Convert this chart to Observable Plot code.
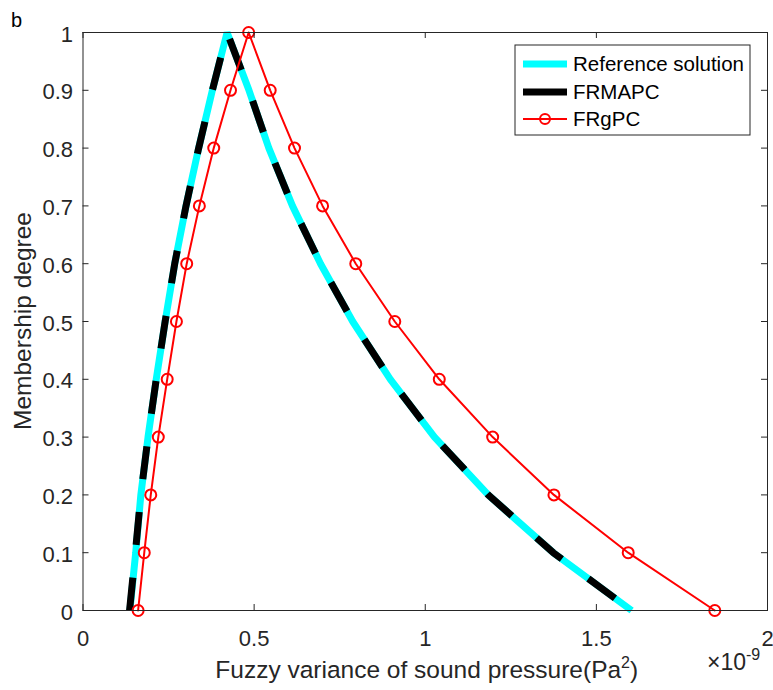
<!DOCTYPE html>
<html>
<head>
<meta charset="utf-8">
<script src="https://cdn.jsdelivr.net/npm/d3@7"></script>
<script src="https://cdn.jsdelivr.net/npm/@observablehq/plot@0.6"></script>
<style>
  html, body { margin: 0; padding: 0; background: #fff; }
</style>
</head>
<body>
<div id="chart"></div>
<script>
// ---- data (x values in units of 1e-9 Pa^2) ----
const membership = [0,0.1,0.2,0.3,0.4,0.5,0.6,0.7,0.8,0.9,1,0.9,0.8,0.7,0.6,0.5,0.4,0.3,0.2,0.1,0];
const referenceX = [0.137,0.154,0.169,0.190,0.214,0.240,0.268,0.301,0.338,0.378,0.421,
                    0.485,0.543,0.612,0.694,0.788,0.898,1.027,1.184,1.374,1.603];
const frmapcX    = [0.136,0.153,0.169,0.190,0.214,0.240,0.268,0.301,0.338,0.378,0.421,
                    0.485,0.543,0.612,0.694,0.788,0.898,1.027,1.184,1.374,1.603];
const frgpcX     = [0.161,0.179,0.198,0.220,0.246,0.273,0.303,0.340,0.382,0.431,0.484,
                    0.547,0.618,0.700,0.797,0.911,1.041,1.197,1.376,1.593,1.846];
const seriesNames = ["Reference solution","FRMAPC","FRgPC"];
const xTicks = [0,0.5,1,1.5,2];
const xTickLabels = ["0","0.5","1","1.5","2"];
const yTicks = [0,0.1,0.2,0.3,0.4,0.5,0.6,0.7,0.8,0.9,1];
const yTickLabels = ["0","0.1","0.2","0.3","0.4","0.5","0.6","0.7","0.8","0.9","1"];

const W = 773, H = 690;
const mL = 82.5, mR = 6, mT = 32, mB = 80;
const frameW = W - mL - mR, frameH = H - mT - mB;
const axisColor = "#262626";
const font = '"Liberation Sans", Arial, Helvetica, sans-serif';

const ref = membership.map((m,i)=>({x: referenceX[i], y: m}));
const mapc = membership.map((m,i)=>({x: frmapcX[i], y: m}));
const gpc = membership.map((m,i)=>({x: frgpcX[i], y: m}));

const svg = Plot.plot({
  width: W, height: H,
  marginLeft: mL, marginRight: mR, marginTop: mT, marginBottom: mB,
  style: {fontFamily: font, background: "#fff", fontSize: "22px"},
  x: {domain: [0,2]},
  y: {domain: [0,1]},
  marks: [
    Plot.line(ref, {x:"x", y:"y", stroke:"#00ffff", strokeWidth:7, strokeLinejoin:"miter", strokeLinecap:"butt"}),
    Plot.line(mapc, {x:"x", y:"y", stroke:"#000000", strokeWidth:7, strokeDasharray:"33,33", strokeLinejoin:"miter", strokeLinecap:"butt"}),
    Plot.line(gpc, {x:"x", y:"y", stroke:"#ff0000", strokeWidth:2}),
    Plot.dot(gpc, {x:"x", y:"y", stroke:"#ff0000", strokeWidth:2, r:5.5, fill:"none"}),
    Plot.frame({stroke: axisColor, strokeWidth: 1}),
    Plot.tickX(xTicks, {x: d=>d, insetTop: frameH-6, stroke: axisColor}),
    Plot.tickX(xTicks, {x: d=>d, insetBottom: frameH-6, stroke: axisColor}),
    Plot.tickY(yTicks, {y: d=>d, insetRight: frameW-6, stroke: axisColor}),
    Plot.tickY(yTicks, {y: d=>d, insetLeft: frameW-6, stroke: axisColor}),
    Plot.axisX({ticks: xTicks, tickFormat: d => xTickLabels[xTicks.indexOf(d)], tickSize: 0, tickPadding: 20, fontSize: 22, label: null, color: axisColor}),
    Plot.axisY({ticks: yTicks, tickFormat: d => yTickLabels[yTicks.indexOf(d)], tickSize: 0, tickPadding: 10, fontSize: 22, dy: 2, label: null, color: axisColor})
  ]
});

const s = d3.select(svg);
s.selectAll("text").attr("font-size", 22).style("font-size", "22px").style("font-family", font);

function txt(sel, size) {
  return sel.style("font-size", size + "px").style("font-family", font);
}

// panel letter
txt(s.append("text"), 20).attr("x", 11).attr("y", 27).style("text-anchor","start").attr("fill", "#000").text("b");

// x label with superscript
const xl = txt(s.append("text"), 24.5).attr("x", mL + frameW/2 + 2).attr("y", 678).style("text-anchor","middle").attr("fill", axisColor);
xl.append("tspan").text("Fuzzy variance of sound pressure(Pa");
xl.append("tspan").style("font-size","16px").attr("dy", -10).text("2");
xl.append("tspan").attr("dy", 10).text(")");

// exponent
const ex = txt(s.append("text"), 23).attr("x", 707).attr("y", 670).style("text-anchor","start").attr("fill", axisColor);
ex.append("tspan").text("\u00d710");
ex.append("tspan").style("font-size","16px").attr("dy", -10).text("-9");

// y label
txt(s.append("text"), 24.5).attr("transform", `translate(31,${mT + frameH/2}) rotate(-90)`).style("text-anchor","middle")
  .attr("fill", axisColor).text("Membership degree");

// legend
const lg = s.append("g");
const lx = 515, ly = 45, lw = 235, lh = 90;
lg.append("rect").attr("x", lx).attr("y", ly).attr("width", lw).attr("height", lh).attr("fill","#fff").attr("stroke", axisColor).attr("stroke-width",1);
const rows = [64, 92, 119];
lg.append("line").attr("x1",523).attr("x2",567).attr("y1",rows[0]).attr("y2",rows[0]).attr("stroke","#00ffff").attr("stroke-width",7);
lg.append("line").attr("x1",523).attr("x2",567).attr("y1",rows[1]).attr("y2",rows[1]).attr("stroke","#000").attr("stroke-width",7);
lg.append("line").attr("x1",523).attr("x2",567).attr("y1",rows[2]).attr("y2",rows[2]).attr("stroke","#ff0000").attr("stroke-width",2);
lg.append("circle").attr("cx",545).attr("cy",rows[2]).attr("r",5).attr("fill","none").attr("stroke","#ff0000").attr("stroke-width",2);
seriesNames.forEach((n,i)=>{
  txt(lg.append("text"), 20.5).attr("x",573).attr("y",rows[i]).attr("dy","0.35em").style("text-anchor","start").attr("fill","#000").text(n);
});

document.getElementById("chart").appendChild(svg);
</script>
</body>
</html>
